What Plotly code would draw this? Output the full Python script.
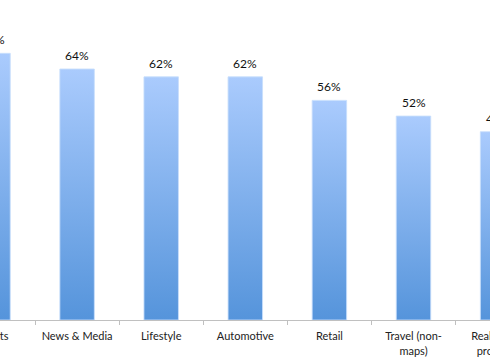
import plotly.graph_objects as go

categories = ["Sports", "News & Media", "Lifestyle", "Automotive", "Retail", "Travel (non-<br>maps)", "Real estate<br>property"]
values = [68, 64, 62, 62, 56, 52, 48]
value_labels = [f"{v}%" for v in values]

PAD = 60  # part of the wider chart that lies outside the visible window
half_w = 0.205
fig = go.Figure()
for i, v in enumerate(values):
    fig.add_trace(go.Scatter(
        x=[i - half_w, i + half_w, i + half_w, i - half_w, i - half_w],
        y=[0, 0, v, v, 0],
        mode="lines", fill="toself", line=dict(width=1, color="rgba(200,222,252,0.85)"),
        fillgradient=dict(type="vertical", colorscale=[[0, "#5594db"], [1, "#aacbfd"]]),
        hoverinfo="skip", showlegend=False,
    ))

for i, (v, t) in enumerate(zip(values, value_labels)):
    fig.add_annotation(x=i, y=v, text=t, showarrow=False, yanchor="bottom", yshift=4,
                       font=dict(size=12, color="#111111", family="Lato"))

fig.update_layout(
    width=490 + 2 * PAD, height=360,
    margin=dict(l=0, r=0, t=0, b=40),
    paper_bgcolor="white", plot_bgcolor="white",
    font=dict(family="Lato", size=11, color="#222222"),
    xaxis=dict(
        range=[(-PAD + 7) / 84.1, (490 + PAD + 7) / 84.1], showgrid=False, zeroline=False,
        tickvals=list(range(len(categories))), ticktext=categories, ticks="",
        ticklabelstandoff=6,
        showline=True, linecolor="#c0c0c0", linewidth=1,
        minor=dict(tickvals=[i + 0.5 for i in range(-1, len(categories))],
                   ticks="outside", ticklen=4, tickcolor="#c0c0c0", showgrid=False),
        tickfont=dict(size=11, color="#222222"),
    ),
    yaxis=dict(range=[0, 81.6], visible=False),
)

fig.write_html(
    "out.html",
    config={"displayModeBar": False},
    post_script=f"document.body.style.margin='0';document.body.style.marginLeft='-{PAD}px';"
                "document.body.style.overflow='hidden';",
)
